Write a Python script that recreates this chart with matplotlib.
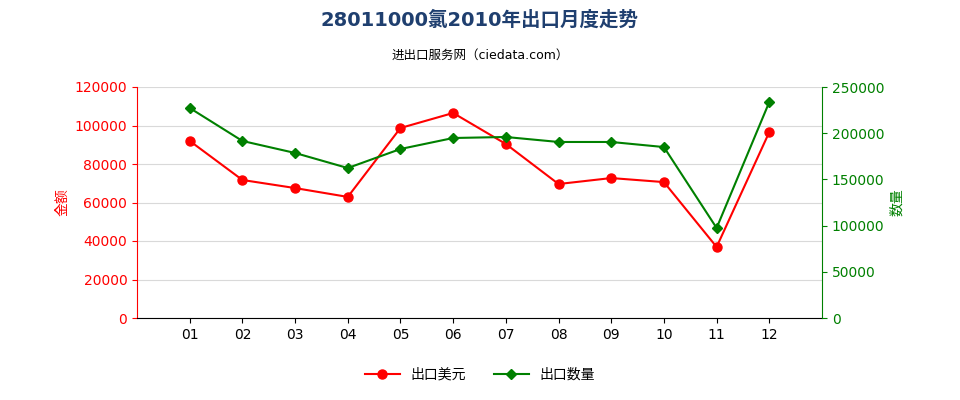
import matplotlib.pyplot as plt
from matplotlib import font_manager

# pick up whatever CJK font is installed and register it by its real name
cjk = [f for f in font_manager.findSystemFonts() if "CJK" in f or "cjk" in f.lower()]
fams = []
for f in cjk:
    font_manager.fontManager.addfont(f)
    name = font_manager.FontProperties(fname=f).get_name()
    if name not in fams:
        fams.append(name)
sc = [n for n in fams if "SC" in n] or fams
plt.rcParams["font.family"] = ["DejaVu Sans"] + sc[:1]

months = ["01", "02", "03", "04", "05", "06", "07", "08", "09", "10", "11", "12"]
export_usd = [92000, 71700, 67500, 62900, 98700, 106500, 90400, 69600, 72700, 70600, 36900, 96600]
export_qty = [227300, 191600, 178600, 162300, 182900, 194800, 195900, 190500, 190500, 185000, 97400, 233800]

fig = plt.figure(figsize=(9.6, 4.0), dpi=100)
ax = fig.add_axes([137 / 960, 1 - 318 / 400, 685 / 960, 231 / 400])
ax2 = ax.twinx()

x = list(range(len(months)))
l1, = ax.plot(x, export_usd, color="#ff0000", marker="o", markersize=6.5, linewidth=1.5, label="出口美元")
l2, = ax2.plot(x, export_qty, color="#008000", marker="D", markersize=5, linewidth=1.5, label="出口数量")

ax.set_xlim(-1, 12)
ax.set_ylim(0, 120000)
ax2.set_ylim(0, 250000)
ax.set_xticks(x)
ax.set_xticklabels(months)
ax.set_yticks(range(0, 120001, 20000))
ax2.set_yticks(range(0, 250001, 50000))
ax.tick_params(axis="y", colors="#ff0000", labelsize=10)
ax2.tick_params(axis="y", colors="#008000", labelsize=10)
ax.tick_params(axis="x", labelsize=10)
ax.grid(axis="y", color="#d9d9d9", linewidth=0.8)
ax.set_axisbelow(True)

for a in (ax, ax2):
    a.spines["top"].set_visible(False)
ax.spines["left"].set_color("#ff0000")
ax2.spines["left"].set_visible(False)
ax2.spines["right"].set_color("#008000")
ax.spines["right"].set_visible(False)
ax2.spines["bottom"].set_visible(False)

ax.set_ylabel("金额", color="#ff0000", fontsize=10)
ax2.set_ylabel("数量", color="#008000", fontsize=10)

fig.text(0.5, 1 - 20 / 400, "28011000氯2010年出口月度走势", ha="center", va="center",
         fontsize=14, fontweight="bold", color="#1f3f6f")
fig.text(0.5, 1 - 55 / 400, "进出口服务网（ciedata.com）", ha="center", va="center", fontsize=9)

fig.legend(handles=[l1, l2], loc="center", bbox_to_anchor=(0.5, 1 - 375 / 400), ncol=2,
           frameon=False, fontsize=10, handlelength=2.5)

fig.savefig("out.png", dpi=100)
